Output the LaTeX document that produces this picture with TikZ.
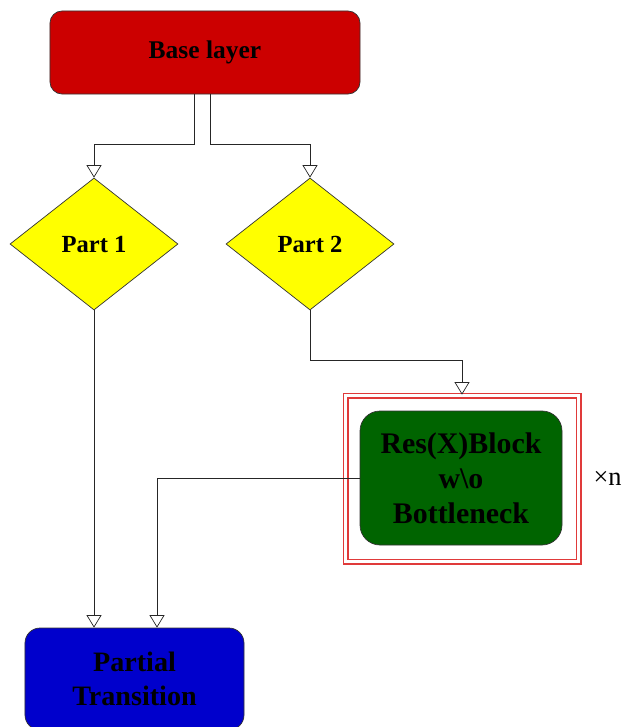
\documentclass[tikz,border=0pt]{standalone}
\usepackage{fontspec}
\setmainfont{Liberation Serif}
\usetikzlibrary{arrows.meta,shapes.geometric,positioning}
\definecolor{basered}{HTML}{CC0000}
\definecolor{partyellow}{HTML}{FFFF00}
\definecolor{blockgreen}{HTML}{006400}
\definecolor{transblue}{HTML}{0000CC}
\definecolor{framered}{HTML}{E03A3A}
\tikzset{line width=0.9pt}

\begin{document}
\begin{tikzpicture}[
            x=0.2mm, y=-0.2mm,
            box/.style={rectangle,draw=black!80,rounded corners=2.4mm,inner sep=0pt,font=\bfseries\fontsize{14.5}{16}\selectfont},
            part/.style={diamond,draw=black!80,fill=partyellow,inner sep=0pt,minimum width=33.6mm,minimum height=26.4mm,font=\bfseries\fontsize{14}{16}\selectfont},
            flow/.style={draw=black!85,-{Triangle[open,width=3mm,length=2.5mm]}}
            ]
            \useasboundingbox (0,0) rectangle (629,727);
            \node[box,fill=basered,minimum width=62mm,minimum height=16.6mm] (base) at (205,52.5) {Base layer};
            \node[part] (p1) at (94,244) {Part 1};
            \node[part] (p2) at (310,244) {Part 2};
            \node[rectangle,draw=framered,double=white,double distance=0.5mm,line width=0.35mm,minimum width=46.6mm,minimum height=33.2mm] (rep) at (462,478.5) {};
            \node[box,fill=blockgreen,rounded corners=4mm,minimum width=40.4mm,minimum height=26.8mm,align=center,font=\bfseries\fontsize{17}{20}\selectfont] (res) at (461,478) {Res(X)Block\\w\textbackslash o\\Bottleneck};
            \node[right=1.6mm of rep,font=\fontsize{15}{17}\selectfont] (times) {×n};
            \node[box,fill=transblue,rounded corners=3mm,minimum width=43.8mm,minimum height=20.4mm,align=center,font=\bfseries\fontsize{16}{19}\selectfont] (pt) at (134.5,679) {Partial\\Transition};
            \draw[flow] ([xshift=-2.2mm]base.south) -- ++(0,-10mm) -| (p1.north);
            \draw[flow] ([xshift=1mm]base.south) -- ++(0,-10mm) -| (p2.north);
            \draw[flow] (p2.south) -- ++(0,-10mm) -| (rep.north);
            \draw[flow] (p1.south) -- (p1.south |- pt.north);
            \draw[flow] (res.west) -| ([xshift=4.5mm]pt.north);
        \end{tikzpicture}
\end{document}
